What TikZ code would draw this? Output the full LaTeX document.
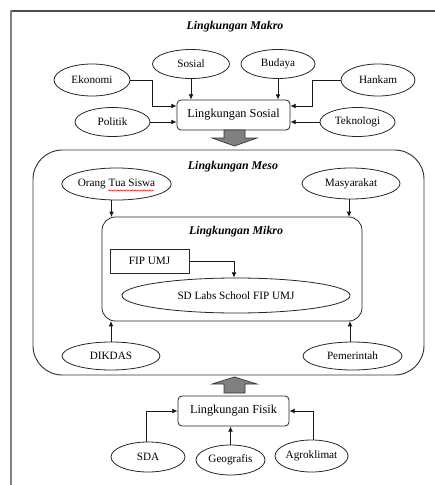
\documentclass[tikz,border=0pt]{standalone}
\usepackage{fontspec}
\setmainfont{Liberation Serif}
\usetikzlibrary{shapes.geometric,arrows.meta,decorations.pathmorphing}
\begin{document}
\begin{tikzpicture}[x=0.75pt,y=-0.75pt,
  ell/.style 2 args={ellipse,draw=black!85,line width=0.6pt,inner sep=0pt,
     minimum width=#1*0.75pt,minimum height=#2*0.75pt,font=\fontsize{8.4}{10}\selectfont},
  rbox/.style 2 args={rectangle,rounded corners=3pt,draw=black!85,line width=0.6pt,inner sep=0pt,
     minimum width=#1*0.75pt,minimum height=#2*0.75pt,font=\fontsize{9.2}{11}\selectfont},
  sbox/.style 2 args={rectangle,draw=black!85,line width=0.6pt,inner sep=0pt,
     minimum width=#1*0.75pt,minimum height=#2*0.75pt,font=\fontsize{8.4}{10}\selectfont},
  ttl/.style={font=\fontsize{8.9}{11}\selectfont\bfseries\itshape,inner sep=0pt},
  arr/.style={-{Latex[length=4pt,width=3.6pt]},line width=0.6pt,draw=black!90},
  bigarr/.style={fill=black!50,draw=black!80,line width=0.5pt,line join=miter}
]
\useasboundingbox (0,0) rectangle (435,485);
% outer frame (clipped)
\draw[black!70,line width=1.3pt] (10,11) -- (435,11);
\draw[black!50,line width=1.6pt] (11,10.5) -- (11,485);

% macro level
\node[ttl] (tmakro) at (235,27) {Lingkungan Makro};
\node[ell={77}{29}] (sos) at (191,64) {Sosial};
\node[ell={74}{29}] (bud) at (278,64) {Budaya};
\node[ell={76}{32}] (eko) at (92,80) {Ekonomi};
\node[ell={74}{32}] (han) at (378,80) {Hankam};
\node[ell={75}{29}] (pol) at (112.5,122) {Politik};
\node[ell={75}{29}] (tek) at (357.5,122) {Teknologi};
\node[rbox={113}{30}] (ls) at (233.5,115) {Lingkungan Sosial};

\draw[arr] (sos.south) -- (sos.south |- ls.north);
\draw[arr] (bud.south) -- (bud.south |- ls.north);
\draw[arr] (pol.east) -- (pol.east -| ls.west);
\draw[arr] (tek.west) -- (tek.west -| ls.east);
\draw[arr] (eko.east) -- ++(22,0) |- ([yshift=6.75pt]ls.west);
\draw[arr] (han.west) -- ++(-28,0) |- ([yshift=6.75pt]ls.east);

% big down arrow
\draw[bigarr] (224,130) -- (245,130) -- (245,138) -- (257,138) -- (234.5,146)
  -- (212,138) -- (224,138) -- cycle;

% meso level
\draw[black!80,line width=0.7pt,rounded corners=22pt] (33,150) rectangle (424,375);
\node[ttl] (tmeso) at (233,167) {Lingkungan Meso};
\node[ell={109}{32}] (ot) at (116.5,184) {Orang Tua Siswa};
\draw[red,line width=0.4pt,decorate,decoration={snake,amplitude=0.45pt,segment length=2.2pt}]
  (108,190.5) -- (153,190.5);
\node[ell={98}{31}] (mas) at (351,183.5) {Masyarakat};
\node[ell={98}{28}] (dik) at (111,356) {DIKDAS};
\node[ell={99}{28}] (pem) at (352.5,356) {Pemerintah};

% micro level
\draw[black!85,line width=0.6pt,rounded corners=10pt] (102,217) coordinate (mikNW) rectangle (362,321) coordinate (mikSE);
\node[ttl] (tmikro) at (236,232) {Lingkungan Mikro};
\node[sbox={79}{24}] (fip) at (149.5,261) {FIP UMJ};
\node[ell={228}{35}] (sd) at (236,295.5) {SD Labs School FIP UMJ};
\draw[arr] (fip.east) -| ([xshift=-1.5pt]sd.north);

\draw[arr] ([xshift=-3.75pt]ot.south) -- ([xshift=-3.75pt]ot.south |- mikNW);
\draw[arr] ([xshift=-1.5pt]mas.south) -- ([xshift=-1.5pt]mas.south |- mikNW);
\draw[arr] (dik.north) -- (dik.north |- mikSE);
\draw[arr] ([xshift=-1.9pt]pem.north) -- ([xshift=-1.9pt]pem.north |- mikSE);

% big up arrow
\draw[bigarr] (224,393) -- (245,393) -- (245,384) -- (257,384) -- (234.5,377)
  -- (212,384) -- (224,384) -- cycle;

% physical level
\node[rbox={111}{30}] (fis) at (233.5,411) {Lingkungan Fisik};
\node[ell={74}{30}] (sda) at (148,457) {SDA};
\node[ell={69}{30}] (geo) at (230.5,460) {Geografis};
\node[ell={67}{32}] (agr) at (311.5,456) {Agroklimat};
\draw[arr] ([xshift=-1.5pt]sda.north) |- (fis.west);
\draw[arr] (geo.north) -- (geo.north |- fis.south);
\draw[arr] ([xshift=1.1pt]agr.north) |- (fis.east);
\end{tikzpicture}
\end{document}
